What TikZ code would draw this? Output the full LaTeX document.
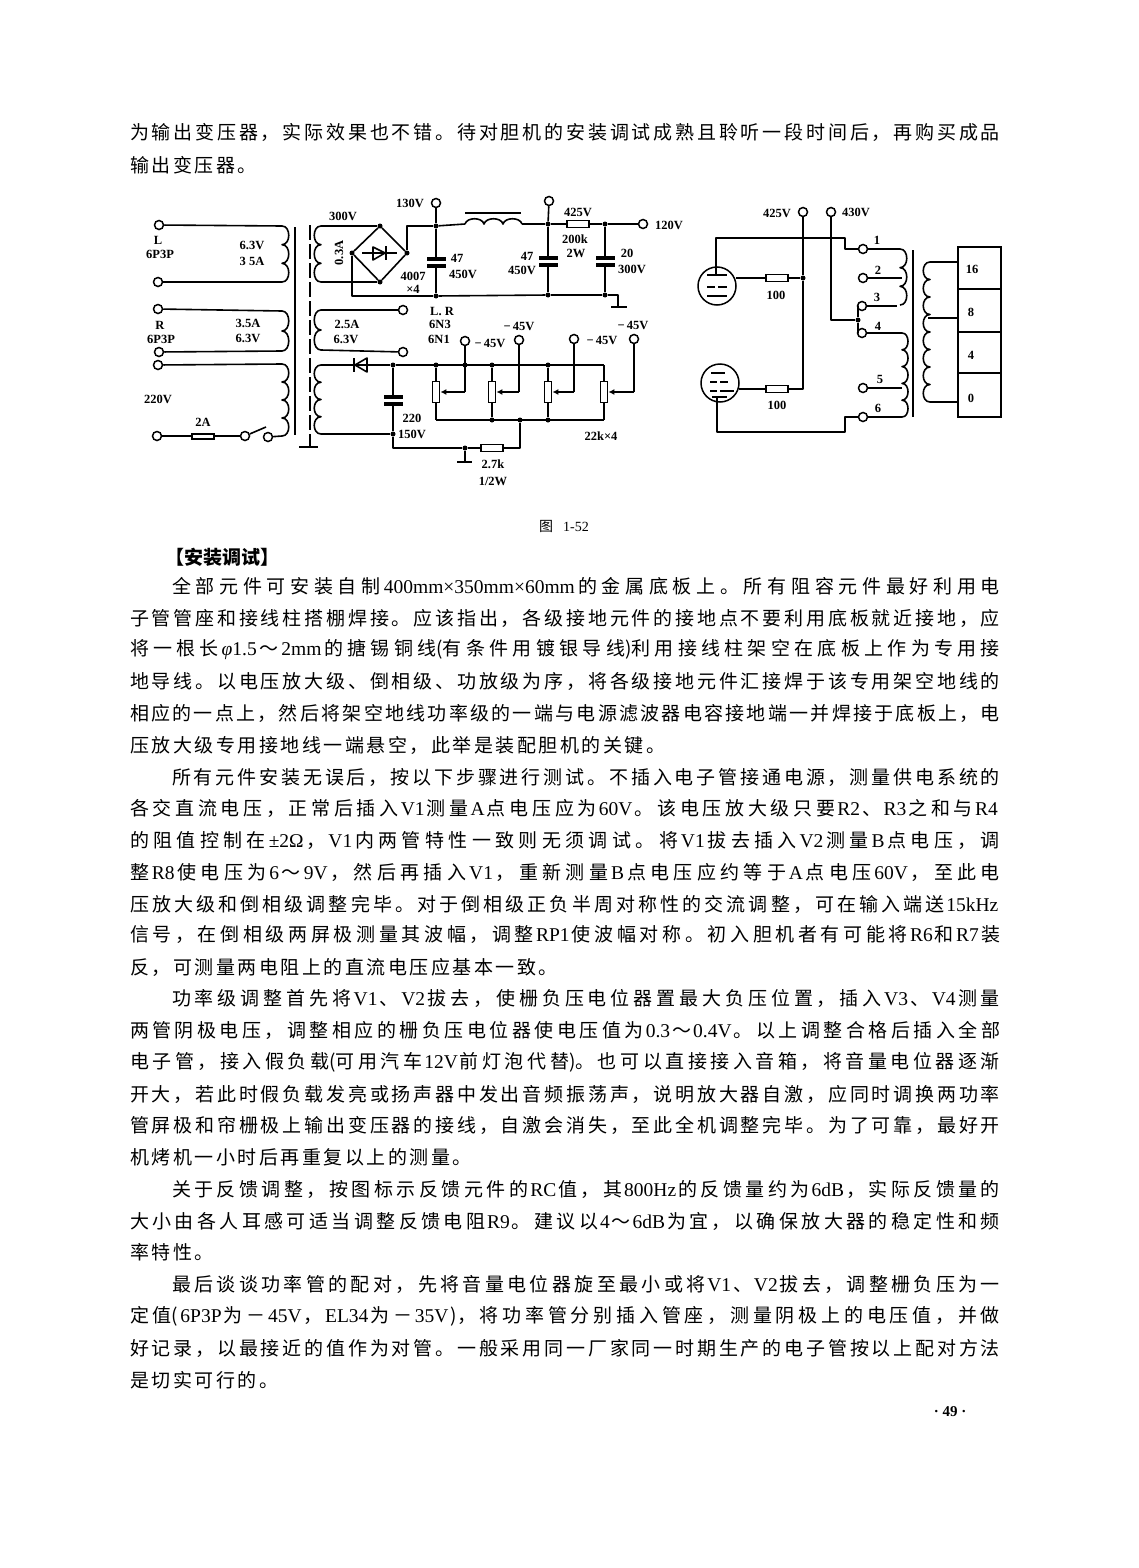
\documentclass[tikz,border=0pt]{standalone}
\usepackage{fontspec}
\usetikzlibrary{arrows.meta}
\setmainfont{Liberation Serif}
\newfontfamily\cjk{Noto Sans CJK SC}
\newfontfamily\lat{Liberation Serif}
\newcount\cjkc
\cjkc="4E00 \loop\ifnum\cjkc<"A000 \XeTeXcharclass\cjkc=10 \advance\cjkc by 1 \repeat
\cjkc="3000 \loop\ifnum\cjkc<"3040 \XeTeXcharclass\cjkc=10 \advance\cjkc by 1 \repeat
\cjkc="FF00 \loop\ifnum\cjkc<"FF61 \XeTeXcharclass\cjkc=10 \advance\cjkc by 1 \repeat
\XeTeXinterchartoks 10 10 = {\hskip 2.5pt plus 1fil minus 2.5pt\relax}
\newcommand\la[1]{\hskip 1pt plus 1fil\relax{\XeTeXinterchartokenstate=0 \lat\fontsize{19.5}{22}\selectfont #1}\hskip 1pt plus 1fil\relax}
\tikzset{
  wire/.style={draw=black,line width=1.6pt,line join=round},
  term/.style={circle,draw=black,line width=1.5pt,fill=white,inner sep=0pt,minimum size=9pt},
  jdot/.style={circle,fill=black,inner sep=0pt,minimum size=5pt},
  res/.style={rectangle,draw=black,line width=1.8pt,fill=white,inner sep=0pt,minimum width=22pt,minimum height=7pt},
  vres/.style={rectangle,draw=black,line width=1.8pt,fill=white,inner sep=0pt,minimum width=7pt,minimum height=21pt},
  plate/.style={rectangle,fill=black,inner sep=0pt,minimum width=19pt,minimum height=3.4pt},
  tube/.style={circle,draw=black,line width=1.5pt,fill=white,inner sep=0pt,minimum size=38pt},
  lbl/.style={inner sep=0pt,font=\fontsize{12.5}{14}\selectfont\bfseries},
  txt/.style={inner sep=0pt,font=\cjk\fontsize{19}{22}\selectfont},
  short/.style={inner sep=0pt,anchor=west,font=\cjk\fontsize{19}{22}\selectfont}
}
\newcommand\coil[6]{% name,x,y1,y2,n,bulge
  \coordinate (#1a) at (#2,#3);\coordinate (#1b) at (#2,#4);
  \draw[wire] (#2,#3) \foreach \k [evaluate=\k as \ya using {#3+(\k-1)*(#4-#3)/#5},evaluate=\k as \yb using {#3+\k*(#4-#3)/#5}] in {1,...,#5} { .. controls (#2+#6,\ya) and (#2+#6,\yb) .. (#2,\yb) };
}
\newcommand\fl[2]{\node[txt] (L#1) at (565,#1) {\hbox to 870pt{\XeTeXinterchartokenstate=1 #2}};}
\newcommand\il[2]{\node[txt] (L#1) at (586,#1) {\hbox to 828pt{\XeTeXinterchartokenstate=1 #2}};}
\newcommand\shl[3]{\node[short] (L#2) at (#1,#2) {\XeTeXinterchartokenstate=1 #3};}
\begin{document}
\begin{tikzpicture}[x=1pt,y=-1pt]
\useasboundingbox (0,0) rectangle (1138,1568);
\fill[white] (0,0) rectangle (1138,1568);
% ---------- text
\fl{132}{为输出变压器，实际效果也不错。待对胆机的安装调试成熟且聆听一段时间后，再购买成品}
\shl{130}{165}{输出变压器。}
\node[lbl,font=\cjk\fontsize{14}{16}\selectfont] (cap) at (564,526) {图\hspace{10pt}{\lat 1-52}};
\node[short] (L557) at (165,557) {\bfseries 【安装调试】};
\il{586}{全部元件可安装自制\la{400mm×350mm×60mm}的金属底板上。所有阻容元件最好利用电}
\fl{618}{子管管座和接线柱搭棚焊接。应该指出，各级接地元件的接地点不要利用底板就近接地，应}
\fl{650}{将一根长\la{\itshape φ\upshape 1.5}～\la{2mm}的搪锡铜线(有条件用镀银导线)利用接线柱架空在底板上作为专用接}
\fl{681}{地导线。以电压放大级、倒相级、功放级为序，将各级接地元件汇接焊于该专用架空地线的}
\fl{713}{相应的一点上，然后将架空地线功率级的一端与电源滤波器电容接地端一并焊接于底板上，电}
\shl{130}{745}{压放大级专用接地线一端悬空，此举是装配胆机的关键。}
\il{777}{所有元件安装无误后，按以下步骤进行测试。不插入电子管接通电源，测量供电系统的}
\fl{808}{各交直流电压，正常后插入\la{V1}测量\la{A}点电压应为\la{60V}。该电压放大级只要\la{R2}、\la{R3}之和与\la{R4}}
\fl{840}{的阻值控制在\la{±2Ω}，\la{V1}内两管特性一致则无须调试。将\la{V1}拔去插入\la{V2}测量\la{B}点电压，调}
\fl{872}{整\la{R8}使电压为\la{6}～\la{9V}，然后再插入\la{V1}，重新测量\la{B}点电压应约等于\la{A}点电压\la{60V}，至此电}
\fl{904}{压放大级和倒相级调整完毕。对于倒相级正负半周对称性的交流调整，可在输入端送\la{15kHz}}
\fl{935}{信号，在倒相级两屏极测量其波幅，调整\la{RP1}使波幅对称。初入胆机者有可能将\la{R6}和\la{R7}装}
\shl{130}{967}{反，可测量两电阻上的直流电压应基本一致。}
\il{998}{功率级调整首先将\la{V1}、\la{V2}拔去，使栅负压电位器置最大负压位置，插入\la{V3}、\la{V4}测量}
\fl{1030}{两管阴极电压，调整相应的栅负压电位器使电压值为\la{0.3}～\la{0.4V}。以上调整合格后插入全部}
\fl{1062}{电子管，接入假负载(可用汽车\la{12V}前灯泡代替)。也可以直接接入音箱，将音量电位器逐渐}
\fl{1094}{开大，若此时假负载发亮或扬声器中发出音频振荡声，说明放大器自激，应同时调换两功率}
\fl{1125}{管屏极和帘栅极上输出变压器的接线，自激会消失，至此全机调整完毕。为了可靠，最好开}
\shl{130}{1157}{机烤机一小时后再重复以上的测量。}
\il{1189}{关于反馈调整，按图标示反馈元件的\la{RC}值，其\la{800Hz}的反馈量约为\la{6dB}，实际反馈量的}
\fl{1221}{大小由各人耳感可适当调整反馈电阻\la{R9}。建议以\la{4}～\la{6dB}为宜，以确保放大器的稳定性和频}
\shl{130}{1252}{率特性。}
\il{1284}{最后谈谈功率管的配对，先将音量电位器旋至最小或将\la{V1}、\la{V2}拔去，调整栅负压为一}
\fl{1316}{定值(\la{6P3P}为－\la{45V}，\la{EL34}为－\la{35V})，将功率管分别插入管座，测量阴极上的电压值，并做}
\fl{1348}{好记录，以最接近的值作为对管。一般采用同一厂家同一时期生产的电子管按以上配对方法}
\shl{130}{1380}{是切实可行的。}
\node[lbl,font=\fontsize{15}{16}\selectfont\bfseries] (pg) at (950,1412) {· 49 ·};
% ---------- power transformer, heater windings (left)
\coil{cL}{282}{226}{282}{3}{9}
\coil{cR}{282}{311}{351}{2}{9}
\coil{cM}{282}{364}{436}{4}{9}
\node[term] (tL1) at (159,225) {};
\node[term] (tL2) at (158,282) {};
\node[term] (tR1) at (158,309) {};
\node[term] (tR2) at (159,352) {};
\node[term] (tM1) at (158,365) {};
\node[term] (tM2) at (157,436) {};
\draw[wire] (tL1) -- (cLa);
\draw[wire] (tL2) -- (cLb);
\draw[wire] (tR1) -- (cRa);
\draw[wire] (tR2) -- (cRb);
\draw[wire] (tM1) -- (cMa);
\node[rectangle,draw=black,line width=2pt,fill=white,inner sep=0pt,minimum width=22pt,minimum height=5pt] (fuse) at (203,436) {};
\node[term] (sw1) at (245,436) {};
\node[term] (sw2) at (268,437) {};
\coordinate (blade) at (266,427);
\draw[wire] (tM2) -- (fuse);
\draw[wire] (fuse) -- (sw1);
\draw[wire] (sw1) -- (blade);
\draw[wire] (sw2) -- (cMb);
\node[lbl] (a1) at (158,240) {L};
\node[lbl] (a2) at (160,254) {6P3P};
\node[lbl] (a3) at (252,245) {6.3V};
\node[lbl] (a4) at (252,261) {3 5A};
\node[lbl] (a5) at (160,325) {R};
\node[lbl] (a6) at (161,339) {6P3P};
\node[lbl] (a7) at (248,323) {3.5A};
\node[lbl] (a8) at (248,338) {6.3V};
\node[lbl] (a9) at (158,399) {220V};
\node[lbl] (a10) at (203,422) {2A};
% core
\coordinate (k1) at (295,227);\coordinate (k2) at (295,435);
\draw[line width=2pt] (k1) -- (k2);
\coordinate (k3) at (310,225);\coordinate (k4) at (310,447);
\draw[line width=2pt,dash pattern=on 15pt off 4pt] (k3) -- (k4);
\coordinate (k5) at (299,447);\coordinate (k6) at (318,447);
\draw[wire] (k5) -- (k6);
% ---------- HT supply
\coil{cH}{321}{226}{282}{3}{-9}
\coil{cF}{321}{310}{350}{2}{-9}
\coil{cB}{321}{365}{434}{4}{-9}
\node[jdot] (bT) at (380,226) {};
\node[jdot] (bR) at (407,253) {};
\node[jdot] (bB) at (380,282) {};
\node[jdot] (bL) at (352,253) {};
\draw[wire] (cHa) -- (bT);
\draw[wire] (cHb) -- (bB);
\draw[wire] (bT) -- (bR) -- (bB) -- (bL) -- (bT);
\coordinate (d1) at (362,253);\coordinate (d2) at (397,253);
\draw[wire] (d1) -- (d2);
\coordinate (d3) at (373,247);\coordinate (d4) at (373,260);\coordinate (d5) at (385,253);
\draw[wire] (d3) -- (d4) -- (d5) -- cycle;
\coordinate (d6) at (386,246);\coordinate (d7) at (386,260);
\draw[wire] (d6) -- (d7);
\node[term] (t130) at (436,203) {};
\node[jdot] (j1) at (436,226) {};
\node[jdot] (j2) at (436,296) {};
\draw[wire] (bR) -- (bR |- j1) -- (j1);
\draw[wire] (bL) -- (bL |- j2) -- (j2);
\draw[wire] (t130) -- (j1);
\node[plate] (c1a) at (436,259) {};
\node[plate] (c1b) at (436,266) {};
\draw[wire] (j1) -- (c1a);
\draw[wire] (c1b) -- (j2);
\coordinate (ind1) at (465,224);\coordinate (ind2) at (522,224);
\draw[wire] (ind1) \foreach \k in {1,2,3} { .. controls +(2,-7) and +(-2,-7) .. ++(19,0) };
\coordinate (ib1) at (465,213);\coordinate (ib2) at (521,213);
\draw[line width=2.2pt] (ib1) -- (ib2);
\node[jdot] (j3) at (548,224) {};
\node[term] (t425a) at (549,201) {};
\node[jdot] (j4) at (548,295) {};
\draw[wire] (j1) -- (ind1);
\draw[wire] (ind2) -- (j3);
\draw[wire] (t425a) -- (j3);
\node[plate] (c2a) at (548,258) {};
\node[plate] (c2b) at (548,265) {};
\draw[wire] (j3) -- (c2a);
\draw[wire] (c2b) -- (j4);
\node[res] (r1) at (578,224) {};
\node[jdot] (j5) at (605,224) {};
\node[term] (t120) at (643,224) {};
\node[jdot] (j6) at (605,295) {};
\draw[wire] (j3) -- (r1);
\draw[wire] (r1) -- (j5);
\draw[wire] (j5) -- (t120);
\node[plate] (c3a) at (605,258) {};
\node[plate] (c3b) at (605,265) {};
\draw[wire] (j5) -- (c3a);
\draw[wire] (c3b) -- (j6);
\coordinate (g1) at (618,295);\coordinate (g2) at (618,307);
\coordinate (g3) at (611,307);\coordinate (g4) at (627,307);
\draw[wire] (j2) -- (j4);
\draw[wire] (j4) -- (j6);
\draw[wire] (j6) -- (g1) -- (g2);
\draw[wire] (g3) -- (g4);
\node[lbl] (b1) at (343,216) {300V};
\node[lbl,rotate=90] (b2) at (339,253) {0.3A};
\node[lbl] (b3) at (410,203) {130V};
\node[lbl] (b4) at (457,258) {47};
\node[lbl] (b5) at (463,274) {450V};
\node[lbl] (b6) at (413,276) {4007};
\node[lbl] (b7) at (413,289) {×4};
\node[lbl] (b8) at (527,256) {47};
\node[lbl] (b9) at (522,270) {450V};
\node[lbl] (b10) at (578,212) {425V};
\node[lbl] (b11) at (575,239) {200k};
\node[lbl] (b12) at (576,253) {2W};
\node[lbl] (b13) at (669,225) {120V};
\node[lbl] (b14) at (627,253) {20};
\node[lbl] (b15) at (632,269) {300V};
% ---------- filaments of the input stage
\node[term] (tF1) at (403,310) {};
\node[term] (tF2) at (403,352) {};
\draw[wire] (cFa) -- (tF1);
\draw[wire] (cFb) -- (tF2);
\node[lbl] (e1) at (347,324) {2.5A};
\node[lbl] (e2) at (346,339) {6.3V};
\node[lbl] (e3) at (442,311) {L. R};
\node[lbl] (e4) at (440,324) {6N3};
\node[lbl] (e5) at (439,339) {6N1};
% ---------- bias supply
\coordinate (dA) at (352,365);\coordinate (dB) at (367,365);
\node[jdot] (j7) at (393,365) {};
\node[jdot] (j8) at (393,434) {};
\draw[wire] (cBa) -- (dA);
\draw[wire] (dB) -- (j7);
\draw[wire] (dA) -- (dB);
\coordinate (q1) at (367,358);\coordinate (q2) at (367,372);\coordinate (q3) at (355,365);
\draw[wire] (q1) -- (q2) -- (q3) -- cycle;
\coordinate (q4) at (354,358);\coordinate (q5) at (354,372);
\draw[wire] (q4) -- (q5);
\node[plate] (c4a) at (393,397) {};
\node[plate] (c4b) at (393,404) {};
\draw[wire] (j7) -- (c4a);
\draw[wire] (c4b) -- (j8);
\draw[wire] (cBb) -- (j8);
\node[jdot] (j9) at (465,448) {};
\node[res] (r2) at (492,448) {};
\node[jdot] (j10) at (520,420) {};
\draw[wire] (j8) -- (j8 |- j9) -- (j9);
\draw[wire] (j9) -- (r2);
\draw[wire] (r2) -- (r2 -| j10) -- (j10);
\coordinate (g5) at (465,462);\coordinate (g6) at (457,462);\coordinate (g7) at (472,462);
\draw[wire] (j9) -- (g5);
\draw[wire] (g6) -- (g7);
\node[jdot] (n1) at (436,365) {};
\node[jdot] (n2) at (492,365) {};
\node[jdot] (n3) at (548,365) {};
\coordinate (n4) at (604,365);
\coordinate (m1) at (436,420);
\node[jdot] (m2) at (492,420) {};
\node[jdot] (m3) at (548,420) {};
\coordinate (m4) at (604,420);
\draw[wire] (j7) -- (n4);
\draw[wire] (m1) -- (m4);
\node[vres] (p1) at (436,392) {};
\node[vres] (p2) at (492,392) {};
\node[vres] (p3) at (548,392) {};
\node[vres] (p4) at (604,392) {};
\draw[wire] (n1) -- (p1);\draw[wire] (p1) -- (m1);
\draw[wire] (n2) -- (p2);\draw[wire] (p2) -- (m2);
\draw[wire] (n3) -- (p3);\draw[wire] (p3) -- (m3);
\draw[wire] (n4) -- (p4);\draw[wire] (p4) -- (m4);
\node[term] (w1) at (465,341) {};
\node[term] (w2) at (519,340) {};
\node[term] (w3) at (574,339) {};
\node[term] (w4) at (634,339) {};
\node[jdot] (wj) at (465,365) {};
\coordinate (v1) at (465,392);\coordinate (v2) at (519,392);\coordinate (v3) at (574,392);\coordinate (v4) at (634,392);
\draw[wire,-{Latex[length=6pt,width=6pt]}] (v1) -- (p1.east);
\draw[wire,-{Latex[length=6pt,width=6pt]}] (v2) -- (p2.east);
\draw[wire,-{Latex[length=6pt,width=6pt]}] (v3) -- (p3.east);
\draw[wire,-{Latex[length=6pt,width=6pt]}] (v4) -- (p4.east);
\draw[wire] (w1) -- (v1);
\draw[wire] (w2) -- (v2);
\draw[wire] (w3) -- (v3);
\draw[wire] (w4) -- (v4);
\node[lbl] (f1) at (490,343) {−\,45V};
\node[lbl] (f2) at (519,326) {−\,45V};
\node[lbl] (f3) at (602,340) {−\,45V};
\node[lbl] (f4) at (633,325) {−\,45V};
\node[lbl] (f5) at (601,436) {22k×4};
\node[lbl] (f6) at (412,418) {220};
\node[lbl] (f7) at (412,434) {150V};
\node[lbl] (f8) at (493,464) {2.7k};
\node[lbl] (f9) at (493,481) {1/2W};
% ---------- output stage
\node[term] (t425) at (803,212) {};
\node[term] (t430) at (831,212) {};
\node[lbl] (h1) at (777,213) {425V};
\node[lbl] (h2) at (856,212) {430V};
\node[tube] (tu) at (717,286) {};
\node[tube] (tl) at (720,383) {};
\foreach \xa/\xb/\yy in {707/727/275,707/715/287,718/727/287,707/727/296,711/725/373,710/717/382,720/728/382,710/717/391,720/734/391,712/727/397}
  \draw[line width=2pt] (\xa,\yy) -- (\xb,\yy);
\node[res] (ru) at (777,278) {};
\node[res] (rl) at (777,389) {};
\node[jdot] (ja) at (803,278) {};
\coordinate (eb) at (803,389);
\coordinate (gu) at (736,278);\coordinate (gl) at (739,389);
\draw[wire] (t425) -- (ja);
\draw[wire] (ja) -- (eb) -- (rl);
\draw[wire] (ru) -- (ja);
\draw[wire] (gu) -- (ru);
\draw[wire] (gl) -- (rl);
\node[term] (o1) at (863,249) {};
\node[term] (o2) at (863,278) {};
\node[term] (o3) at (862,306) {};
\node[term] (o4) at (862,333) {};
\node[term] (o5) at (863,388) {};
\node[term] (o6) at (863,417) {};
\node[jdot] (oj) at (858,320) {};
\coordinate (pu) at (716,275);\coordinate (pu1) at (716,238);\coordinate (pu2) at (845,238);\coordinate (pu3) at (845,249);
\coordinate (pl) at (717,397);\coordinate (pl1) at (717,432);\coordinate (pl2) at (845,432);\coordinate (pl3) at (845,417);
\draw[wire] (pu) -- (pu1) -- (pu2) -- (pu3) -- (o1);
\draw[wire] (pl) -- (pl1) -- (pl2) -- (pl3) -- (o6);
\draw[wire] (t430) |- (oj);
\draw[wire] (o3) -| (oj);
\draw[wire] (o4) -| (oj);
\coil{cP}{900}{249}{305}{3}{9}
\coil{cQ}{902}{333}{417}{5}{8}
\coil{cS}{930}{262}{402}{8}{-9}
\coordinate (t2c) at (902,278);\coordinate (t5c) at (902,388);\coordinate (t3c) at (897,306);
\draw[wire] (o1) -- (cPa);
\draw[wire] (o2) -- (t2c);
\draw[wire] (o3) -- (t3c);
\draw[wire] (o4) -- (cQa);
\draw[wire] (o5) -- (t5c);
\draw[wire] (o6) -- (cQb);
\coordinate (kk1) at (913,250);\coordinate (kk2) at (913,417);
\draw[line width=2.2pt] (kk1) -- (kk2);
\node[rectangle,draw=black,line width=1.8pt,inner sep=0pt,minimum width=43pt,minimum height=42pt] (s16) at (979.5,268) {};
\node[rectangle,draw=black,line width=1.8pt,inner sep=0pt,minimum width=43pt,minimum height=43pt] (s8) at (979.5,310.5) {};
\node[rectangle,draw=black,line width=1.8pt,inner sep=0pt,minimum width=43pt,minimum height=41pt] (s4) at (979.5,352.5) {};
\node[rectangle,draw=black,line width=1.8pt,inner sep=0pt,minimum width=43pt,minimum height=44pt] (s0) at (979.5,395) {};
\coordinate (st) at (928,318);
\draw[wire] (cSa) -- (cSa -| s16.west);
\draw[wire] (st) -- (st -| s8.west);
\draw[wire] (cSb) -- (cSb -| s0.west);
\node[lbl] (o1l) at (877,240) {1};
\node[lbl] (o2l) at (878,270) {2};
\node[lbl] (o3l) at (877,297) {3};
\node[lbl] (o4l) at (878,326) {4};
\node[lbl] (o5l) at (880,379) {5};
\node[lbl] (o6l) at (878,408) {6};
\node[lbl] (h3) at (776,295) {100};
\node[lbl] (h4) at (777,405) {100};
\node[lbl] (s1) at (972,269) {16};
\node[lbl] (s2) at (971,312) {8};
\node[lbl] (s3) at (971,355) {4};
\node[lbl] (s5) at (971,398) {0};
\end{tikzpicture}
\end{document}
